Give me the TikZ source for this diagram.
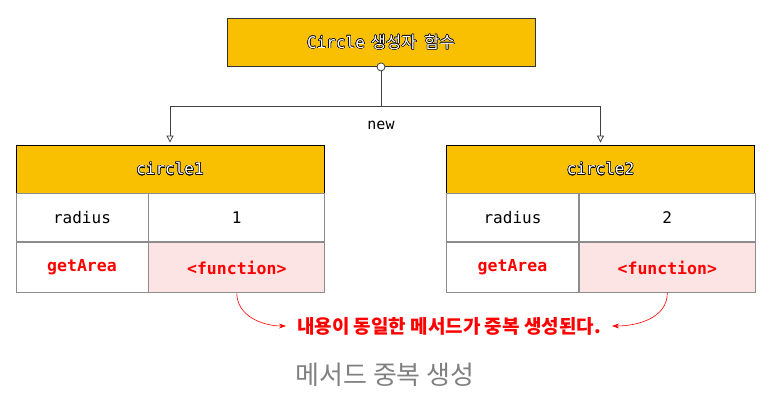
\documentclass[tikz,border=0pt]{standalone}
\usepackage{fontspec}
\setmonofont{DejaVu Sans Mono}
\newfontfamily\kr{Noto Sans CJK KR}
\usepackage{contour}
\contourlength{0.5pt}
\usetikzlibrary{arrows.meta}

\definecolor{hdrorange}{RGB}{248,192,0}
\definecolor{fnpink}{RGB}{253,228,228}
\definecolor{notered}{RGB}{255,0,0}
\definecolor{capgray}{RGB}{128,128,128}

\tikzset{
  hdrbox/.style={draw=black!80, fill=hdrorange, line width=0.8pt, inner sep=0pt,
    minimum width=308pt, minimum height=48pt, text=white,
    font=\ttfamily\fontsize{16}{19}\selectfont},
  keycell/.style={draw=black!45, line width=0.8pt, inner sep=0pt,
    minimum width=132pt, minimum height=48pt,
    font=\ttfamily\fontsize{16}{19}\selectfont},
  valcell/.style={keycell, minimum width=176pt},
  redkey/.style={keycell, minimum height=50pt, text=notered,
    font=\ttfamily\bfseries\fontsize{16.5}{19}\selectfont},
  fncell/.style={valcell, minimum height=50pt, fill=fnpink, text=notered,
    font=\ttfamily\bfseries\fontsize{16.5}{19}\selectfont},
  link/.style={draw=black!75, line width=0.8pt},
  notearrow/.style={draw=notered, line width=0.6pt, -{Stealth[length=7pt,width=5pt]}}
}

\begin{document}
\begin{tikzpicture}[x=1pt, y=-1pt]
   \useasboundingbox (0,0) rectangle (776,410);

   % constructor
   \node[hdrbox] (ctor) at (381,42.5)
     {\contour{black}{Circle\hspace{6pt}{\kr\fontsize{16.5}{19}\selectfont 생성자\hspace{8pt}함수}}};
   \node[circle, draw=black!75, fill=white, line width=0.8pt, inner sep=0pt,
     minimum size=8pt] (dot) at (ctor.south) {};

   % circle1
   \node[hdrbox, draw=black] (c1) at (170,169) {\contour{black}{circle1}};
   \node[keycell, anchor=north west] (k1) at (c1.south west) {radius};
   \node[valcell, anchor=north west] (v1) at (k1.north east) {1};
   \node[redkey, anchor=north west] (g1) at (k1.south west) {getArea};
   \node[fncell, anchor=north west] (f1) at (g1.north east) {<function>};

   % circle2
   \node[hdrbox, draw=black] (c2) at (600.5,169) {\contour{black}{circle2}};
   \node[keycell, anchor=north west] (k2) at (c2.south west) {radius};
   \node[valcell, anchor=north west] (v2) at (k2.north east) {2};
   \node[redkey, anchor=north west] (g2) at (k2.south west) {getArea};
   \node[fncell, anchor=north west] (f2) at (g2.north east) {<function>};

   % new
   \coordinate (split) at (381,106);
   \draw[link] (dot) -- (split);
   \draw[link, -{Triangle[open, length=7pt, width=7pt]}, shorten >=2pt] (split) -| (c1.north);
   \draw[link, -{Triangle[open, length=7pt, width=7pt]}, shorten >=2pt] (split) -| (c2.north);
   \node[font=\ttfamily\fontsize{15}{18}\selectfont] (new) at (381,125) {new};

   % note
   \node[text=notered, inner xsep=11pt, font=\kr\bfseries\fontsize{19}{22}\selectfont]
     (note) at (449,326) {내용이 동일한 메서드가 중복 생성된다.};
   \draw[notearrow] (f1.south) to[out=-90, in=180] (note.west);
   \draw[notearrow] (f2.south) to[out=-90, in=0] (note.east);

   \node[text=capgray, font=\kr\fontsize{26}{30}\selectfont] (cap) at (385,375) {메서드 중복 생성};

\end{tikzpicture}
\end{document}
